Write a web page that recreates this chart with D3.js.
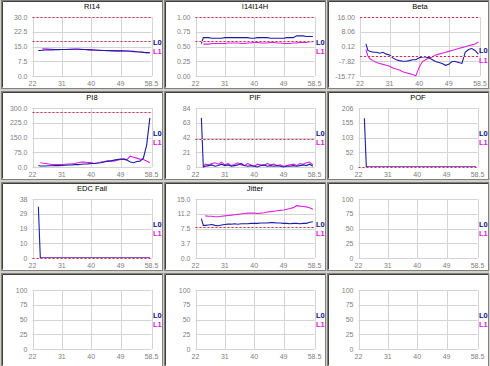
<!DOCTYPE html>
<html><head><meta charset="utf-8">
<script src="https://cdn.jsdelivr.net/npm/d3@7"></script>
<style>html,body{margin:0;padding:0;background:#d4d0c8;overflow:hidden}svg{display:block}</style>
</head><body><svg id="c" width="490" height="366"></svg>
<script>
// ---- data ----
const time = [23.8, 24.4, 25, 26, 27, 28, 29, 30, 31, 32, 33, 34, 35, 36, 37, 38, 39, 40, 41, 42, 43, 44, 45, 46, 47, 48, 49, 50, 51, 52, 53, 54, 55, 56, 57, 58];
const xTicks = [22, 31, 40, 49, 58.5];
const titles = ["RI14", "I14I14H", "Beta", "PI8", "PIF", "POF", "EDC Fail", "Jitter", "", "", "", ""];

const ri14L0 = [13.0, 13.0, 13.1, 13.2, 13.3, 13.3, 13.4, 13.4, 13.5, 13.5, 13.5, 13.6, 13.6, 13.6, 13.5, 13.5, 13.4, 13.3, 13.2, 13.1, 13.0, 13.0, 12.9, 12.9, 12.8, 12.8, 12.8, 12.7, 12.7, 12.6, 12.5, 12.3, 12.2, 12.0, 11.9, 11.8];
const ri14L1 = [null, null, 13.8, 13.8, 13.7, 13.6, 13.5, 13.5, 13.5, 13.5, 13.6, 13.6, 13.7, 13.7, 13.6, 13.5, 13.4, 13.3, 13.2, 13.1, 13.1, 13.0, 13.0, 12.9, 12.9, 12.8, 12.8, 12.8, 12.7, 12.6, 12.4, 12.3, 12.2, 12.1, 11.9, 11.8];
const i14L0 = [0.55, 0.65, 0.65, 0.65, 0.64, 0.64, 0.64, 0.64, 0.65, 0.65, 0.65, 0.65, 0.65, 0.65, 0.65, 0.65, 0.64, 0.64, 0.65, 0.65, 0.65, 0.65, 0.64, 0.64, 0.64, 0.64, 0.64, 0.65, 0.65, 0.65, 0.68, 0.68, 0.68, 0.67, 0.67, 0.67];
const i14L1 = [null, 0.54, 0.54, 0.54, 0.55, 0.55, 0.55, 0.55, 0.55, 0.56, 0.56, 0.56, 0.56, 0.55, 0.55, 0.56, 0.56, 0.57, 0.57, 0.56, 0.56, 0.56, 0.57, 0.57, 0.56, 0.56, 0.55, 0.55, 0.55, 0.56, 0.56, 0.57, 0.57, 0.57, 0.58, 0.58];
const betaL0 = [1.5, -2.0, -2.5, -3, -3, -3.5, -3, -4, -4.5, -6, -7, -7.5, -7.8, -7.8, -7.5, -7, -7, -6, -5.5, -5.5, -6, -7, -8, -8.5, -9, -10, -9.5, -8, -8, -8.5, -9, -3, -1.5, -1, -2, -4];
const betaL1 = [-1.5, -5, -6.5, -7.5, -8.5, -9, -9.5, -10, -10.5, -11.5, -12, -12.5, -13.5, -14, -14.5, -15, -15.7, -11, -8, -7, -6, -5.5, -4.5, -4, -3.5, -3, -2.5, -2, -1.5, -1, -0.5, 0, 0.5, 1, 1.5, 2.5];
const pi8L0 = [8, 5, 5, 5, 6, 6, 7, 7, 8, 9, 10, 10, 12, 12, 14, 15, 16, 18, 18, 20, 22, 25, 30, 30, 35, 38, 40, 40, 35, 25, 22, 28, 30, 45, 110, 250];
const pi8L1 = [null, 22, 20, 18, 15, 12, 12, 12, 13, 14, 15, 16, 18, 22, 25, 25, 22, 22, 18, 20, 25, 28, 30, 32, 30, 35, 38, 40, 38, 55, 50, 45, 40, 38, 30, 22];
const pifL0 = [70, 0, 1, 2, 3, 1, 2, 4, 2, 3, 1, 2, 3, 5, 2, 1, 2, 1, 0, 2, 3, 1, 2, 1, 2, 1, 0, 1, 1, 2, 1, 2, 3, 2, 4, 1];
const pifL1 = [null, 0, 4, 3, 5, 6, 4, 7, 3, 5, 2, 4, 6, 3, 2, 5, 3, 1, 4, 3, 2, 5, 3, 4, 2, 3, 1, 2, 3, 4, 2, 5, 4, 6, 7, 3];
const pofL0 = [170, 0, 0, 0, 0, 0, 0, 0, 0, 0, 0, 0, 0, 0, 0, 0, 0, 0, 0, 0, 0, 0, 0, 0, 0, 0, 0, 0, 0, 0, 0, 0, 0, 0, 0, 0];
const pofL1 = [null, 0, 0, 0, 0, 0, 0, 0, 0, 0, 0, 0, 0, 0, 0, 0, 0, 0, 0, 0, 0, 0, 0, 0, 0, 0, 0, 0, 0, 0, 0, 0, 0, 0, 0, 0];
const edcL0 = [33, 0, 0, 0, 0, 0, 0, 0, 0, 0, 0, 0, 0, 0, 0, 0, 0, 0, 0, 0, 0, 0, 0, 0, 0, 0, 0, 0, 0, 0, 0, 0, 0, 0, 0, 0];
const edcL1 = [null, 0, 0, 0, 0, 0, 0, 0, 0, 0, 0, 0, 0, 0, 0, 0, 0, 0, 0, 0, 0, 0, 0, 0, 0, 0, 0, 0, 0, 0, 0, 0, 0, 0, 0, 0];
const jitL0 = [10, 8.3, 8.3, 8.4, 8.5, 8.3, 8.2, 8.4, 8.5, 8.6, 8.6, 8.7, 8.6, 8.7, 8.7, 8.7, 8.8, 8.8, 8.8, 8.9, 8.9, 8.9, 9.0, 9.0, 8.9, 8.9, 8.8, 8.8, 8.7, 8.8, 8.8, 8.7, 8.8, 8.8, 9.1, 9.2];
const jitL1 = [null, null, 10.7, 10.6, 10.6, 10.5, 10.5, 10.6, 10.7, 10.8, 10.9, 11.0, 11.1, 11.2, 11.3, 11.4, 11.4, 11.4, 11.3, 11.4, 11.5, 11.7, 11.8, 11.9, 12.0, 12.1, 12.2, 12.4, 12.6, 12.8, 13.3, 13.2, 13.1, 13.0, 12.8, 12.4];

const seriesL0 = [ri14L0, i14L0, betaL0, pi8L0, pifL0, pofL0, edcL0, jitL0, [], [], [], []];
const seriesL1 = [ri14L1, i14L1, betaL1, pi8L1, pifL1, pofL1, edcL1, jitL1, [], [], [], []];

const yTickVals = [
  [0, 7.5, 15, 22.5, 30], [0, 0.25, 0.5, 0.75, 1], [-15.77, -7.82, 0.12, 8.06, 16],
  [0, 75, 150, 225, 300], [0, 21, 42, 63, 84], [0, 51.5, 103, 154.5, 206],
  [0, 9.5, 19, 28.5, 38], [0, 3.75, 7.5, 11.25, 15],
  [0, 25, 50, 75, 100], [0, 25, 50, 75, 100], [0, 25, 50, 75, 100], [0, 25, 50, 75, 100]];
const yTickLabels = [
  ["0.0", "7.5", "15.0", "22.5", "30.0"], ["0.00", "0.25", "0.50", "0.75", "1.00"], ["-15.77", "-7.82", "0.12", "8.06", "16.00"],
  ["0.0", "75.0", "150.0", "225.0", "300.0"], ["0", "21", "42", "63", "84"], ["0", "52", "103", "155", "206"],
  ["0", "10", "19", "29", "38"], ["0.0", "3.7", "7.5", "11.2", "15.0"],
  ["0", "25", "50", "75", "100"], ["0", "25", "50", "75", "100"], ["0", "25", "50", "75", "100"], ["0", "25", "50", "75", "100"]];
const refLines = [[30, 18], [1, 0.6], [16, -5], [280], [40], [0], [0], [8], [], [], [], []];
const legendNames = ["L0", "L1"];

// ---- layout ----
const colX = [1, 164, 327];
const plotTops = [17, 108, 199, 290];
const colors = {L0: "#1c1ca8", L1: "#e020e0", L0txt: "#10108a", L1txt: "#e020e0"};
const svg = d3.select("#c");
const font = "'Liberation Sans', Arial, sans-serif";

svg.append("rect").attr("width", 490).attr("height", 366).attr("fill", "#d4d0c8");

titles.forEach((title, i) => {
  const r = Math.floor(i / 3), c = i % 3;
  const px = colX[c], top = plotTops[r];
  const ph = r === 3 ? 93 : 88;
  const g = svg.append("g");
  // panel frame
  g.append("rect").attr("x", px + 0.5).attr("y", top - 16.5).attr("width", 161).attr("height", ph)
    .attr("fill", "#ffffff").attr("stroke", "#808080");
  g.append("path").attr("d", `M${px + 1.5},${top - 16.5 + ph - 1}V${top - 15.5}H${px + 161}`)
    .attr("fill", "none").attr("stroke", "#404040");

  const left = px + (i === 2 ? 33 : 31.5);
  const right = px + (i === 2 ? 153 : 150.5);
  const x = d3.scaleLinear().domain([22, 58.5]).range([left, right]);
  const yt = yTickVals[i];
  const y = d3.scaleLinear().domain([yt[0], yt[yt.length - 1]]).range([top + 59, top]);

  // grid
  g.selectAll(null).data(xTicks).join("line")
    .attr("x1", d => Math.round(x(d)) + 0.5).attr("x2", d => Math.round(x(d)) + 0.5)
    .attr("y1", top).attr("y2", top + 59).attr("stroke", "#d4d4d4");
  g.selectAll(null).data(yt).join("line")
    .attr("x1", left).attr("x2", right)
    .attr("y1", d => Math.round(y(d)) + 0.5).attr("y2", d => Math.round(y(d)) + 0.5).attr("stroke", "#d4d4d4");

  // axis labels
  g.selectAll(null).data(xTicks).join("text")
    .attr("x", d => x(d)).attr("y", top + 69).attr("text-anchor", "middle")
    .attr("font-family", font).attr("font-size", 7).attr("fill", "#808080").text(d => d);
  g.selectAll(null).data(yt).join("text")
    .attr("x", left - 5).attr("y", d => y(d) + 2.5).attr("text-anchor", "end")
    .attr("font-family", font).attr("font-size", 7).attr("fill", "#808080")
    .text((d, k) => yTickLabels[i][k]);

  // title
  if (title) g.append("text").attr("x", (left + right) / 2).attr("y", top - 8)
    .attr("text-anchor", "middle").attr("font-family", font).attr("font-size", 7.5)
    .attr("fill", "#000").text(title);

  const line = d3.line().defined(d => d[1] !== null).x(d => x(d[0])).y(d => y(d[1]));
  [[seriesL1[i], colors.L1], [seriesL0[i], colors.L0]].forEach(([vals, col]) => {
    if (!vals.length) return;
    const pts = time.map((t, k) => [t, vals[k]]);
    g.append("path").datum(pts).attr("d", line).attr("fill", "none")
      .attr("stroke", col).attr("stroke-width", 1.1);
  });

  // reference lines (drawn on top, with light backing)
  g.selectAll(null).data(refLines[i]).join("line")
    .attr("x1", left).attr("x2", right)
    .attr("y1", d => Math.round(y(d)) + 0.5).attr("y2", d => Math.round(y(d)) + 0.5)
    .attr("stroke", "#f4d8de").attr("stroke-width", 1);
  g.selectAll(null).data(refLines[i]).join("line")
    .attr("x1", left).attr("x2", right)
    .attr("y1", d => Math.round(y(d)) + 0.5).attr("y2", d => Math.round(y(d)) + 0.5)
    .attr("stroke", "#c83050").attr("stroke-width", 1).attr("stroke-dasharray", "2,2");

  // legend
  const ly = i === 2 ? [top + 36, top + 46] : [top + 28, top + 37];
  legendNames.forEach((n, k) => {
    g.append("text").attr("x", px + 152).attr("y", ly[k]).attr("font-family", font)
      .attr("font-size", 7.5).attr("font-weight", "bold")
      .attr("fill", k === 0 ? colors.L0txt : colors.L1txt).text(n);
  });
});
</script></body></html>
